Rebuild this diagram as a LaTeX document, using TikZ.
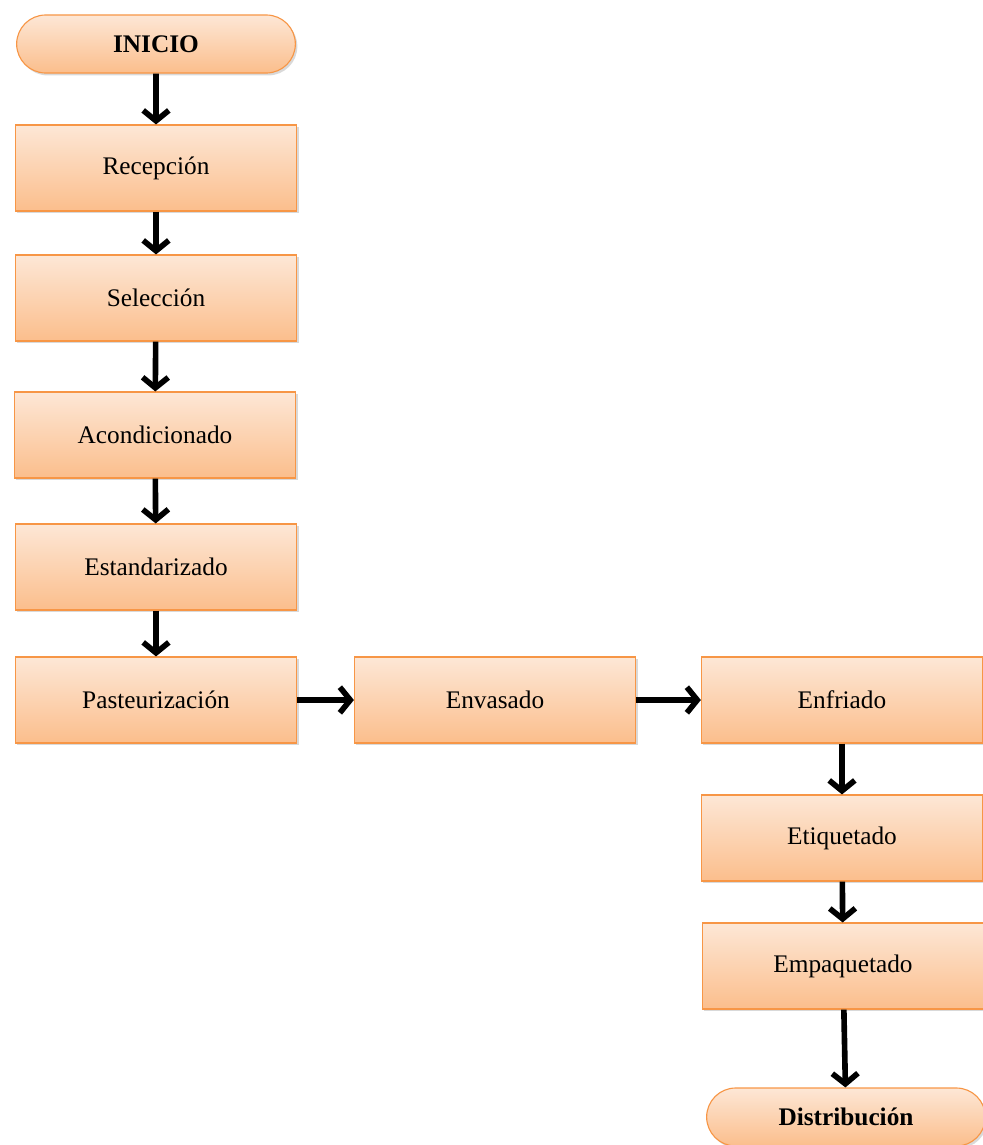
\documentclass[tikz,border=0pt]{standalone}
\usepackage{fontspec}
\setmainfont{Liberation Serif}
\usetikzlibrary{arrows.meta}
\usetikzlibrary{shapes.misc}
\usetikzlibrary{shadows}

\definecolor{bordeNar}{HTML}{F79646}
\definecolor{claroNar}{HTML}{FDE7D6}
\definecolor{oscNar}{HTML}{FBBE8C}

\begin{document}
\begin{tikzpicture}[x=0.025cm,y=-0.025cm]
		\useasboundingbox (0,0) rectangle (983,1145);

		\begin{scope}[every node/.style={rectangle,draw=bordeNar,thick,
					  top color=claroNar,bottom color=oscNar,
					  drop shadow={opacity=0.3,shadow xshift=0.5mm,shadow yshift=-0.6mm},
					  minimum width=7.025cm,minimum height=2.15cm,
					  font=\fontsize{18}{20}\selectfont}]
			\node (Rec) at (156,168) {Recepción};
			\node (Sel) at (156,298) {Selección};
			\node (Aco) at (155,435) {Acondicionado};
			\node (Est) at (156,567) {Estandarizado};
			\node (Pas) at (156,700) {Pasteurización};
			\node (Env) at (495,700) {Envasado};
			\node (Enf) at (842,700) {Enfriado};
			\node (Eti) at (842,838) {Etiquetado};
			\node (Emp) at (843,966) {Empaquetado};
		\end{scope}

		\begin{scope}[every node/.style={rounded rectangle,
					  draw=bordeNar,thick,
					  top color=claroNar,bottom color=oscNar,
					  drop shadow={opacity=0.3,shadow xshift=0.5mm,shadow yshift=-0.6mm},
					  minimum width=7.2cm,minimum height=1.45cm,
					  font=\fontsize{18}{20}\selectfont\bfseries}]
			\node (Ini) at (156,44) {INICIO};
			\node (Dis) at (846,1117) {Distribución};
		\end{scope}

		\begin{scope}[every edge/.style={draw=black,line width=4pt,
					  -{Straight Barb[length=2.6mm,width=6.4mm]}}]
			\path (Ini) edge (Rec);
			\path (Rec) edge (Sel);
			\path (Sel) edge (Aco);
			\path (Aco) edge (Est);
			\path (Est) edge (Pas);
			\path (Pas) edge (Env);
			\path (Env) edge (Enf);
			\path (Enf) edge (Eti);
			\path (Eti) edge (Emp);
			\path (Emp) edge (Dis);
		\end{scope}
	\end{tikzpicture}
\end{document}
